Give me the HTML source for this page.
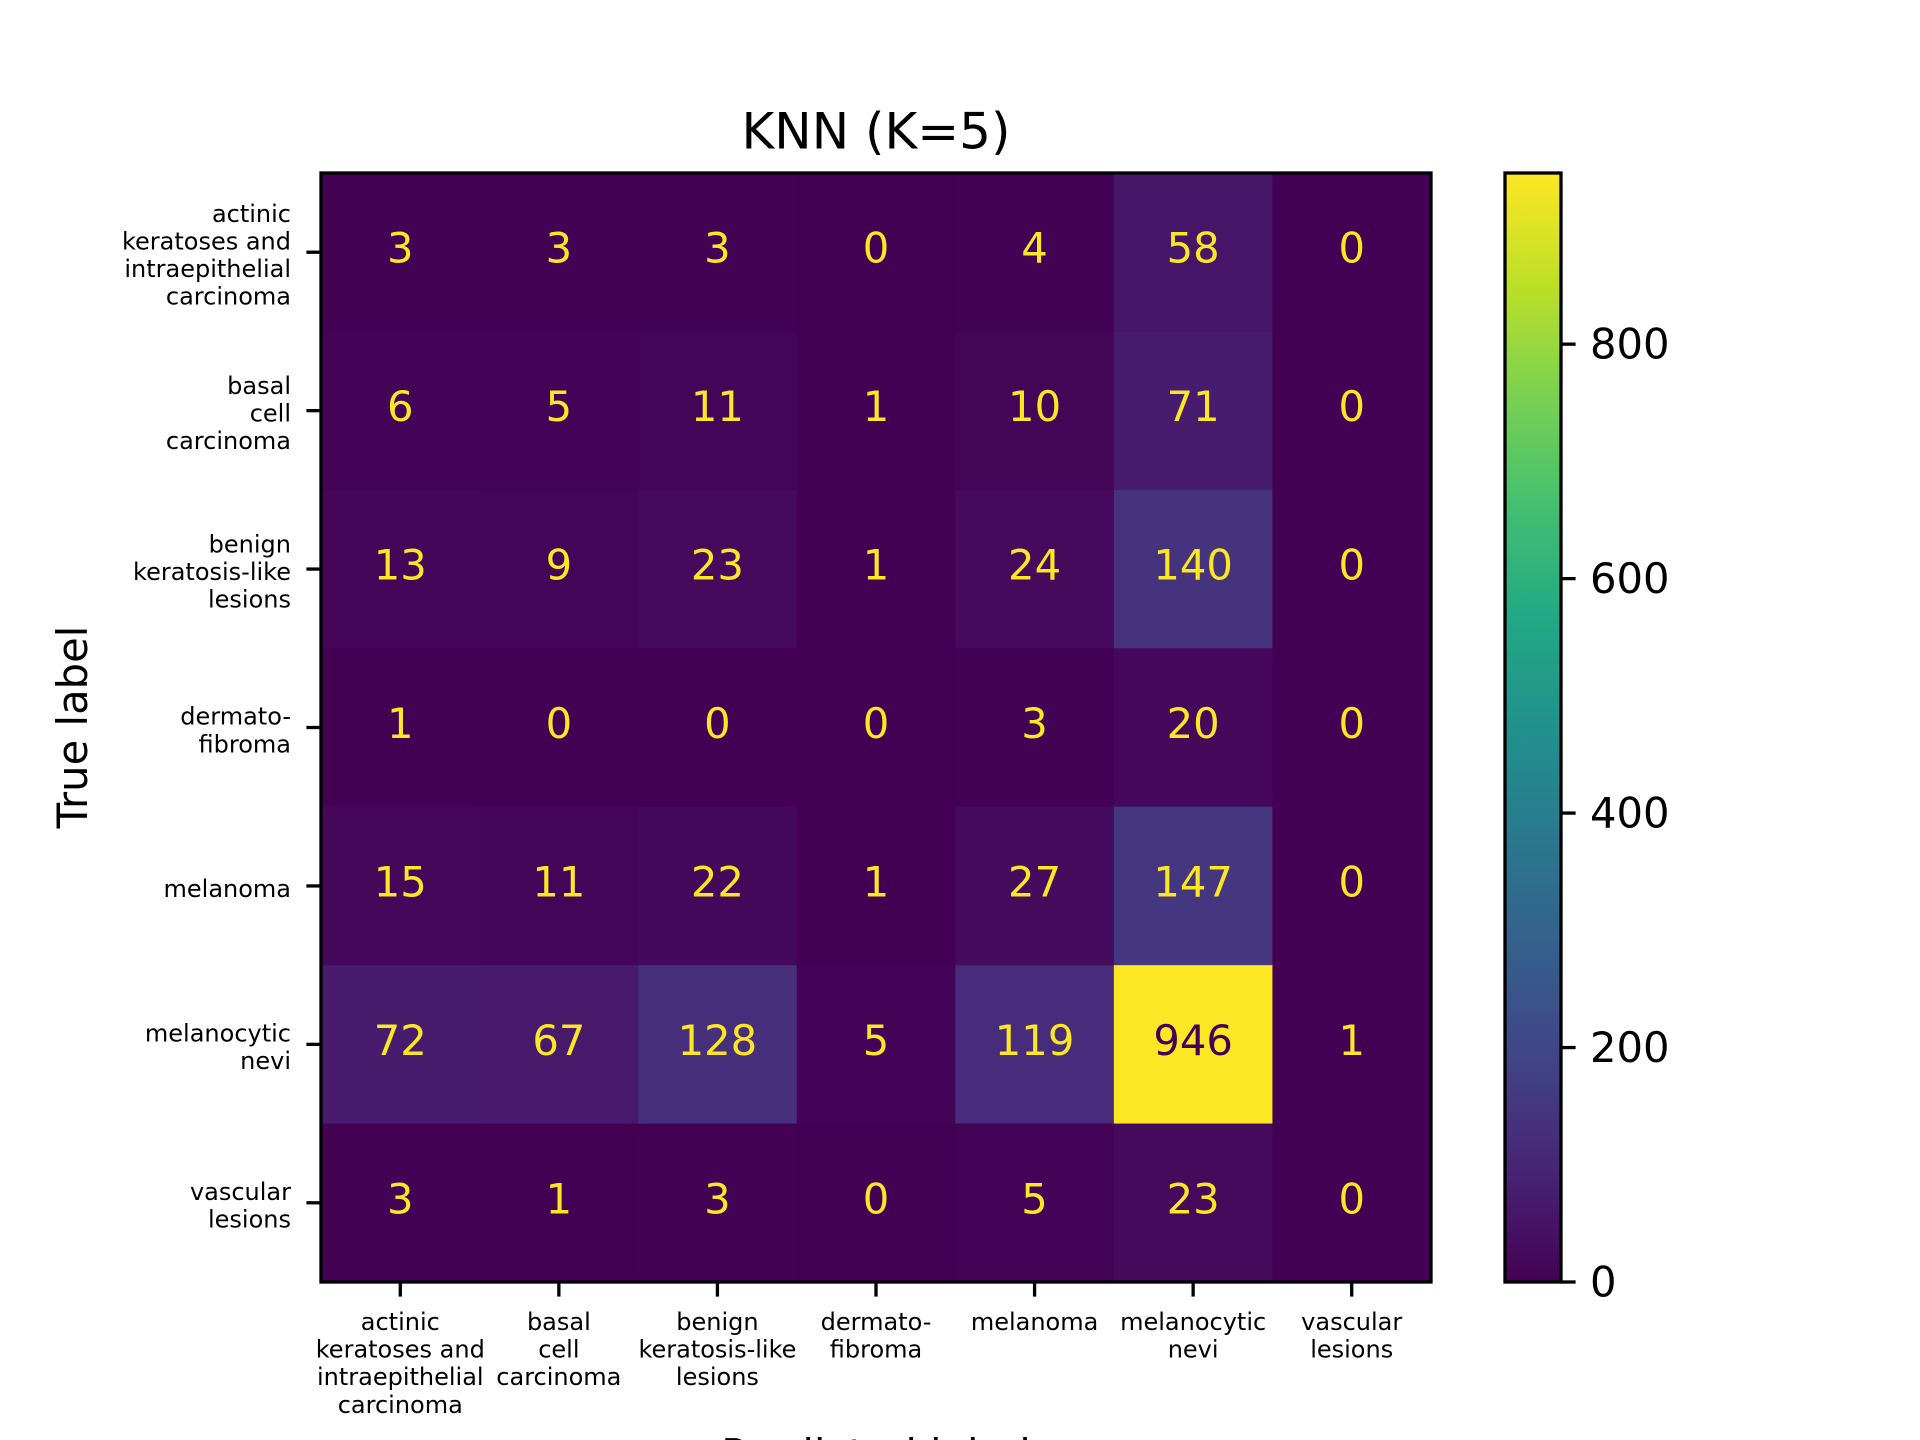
<!DOCTYPE html>
<html><head><meta charset="utf-8"><style>html,body{margin:0;padding:0;background:#fff}svg{display:block}text{font-family:"DejaVu Sans","Liberation Sans",sans-serif}</style></head>
<body>
<svg id="chart" width="1920" height="1440" viewBox="0 0 1920 1440" xmlns="http://www.w3.org/2000/svg">
<defs>
<linearGradient id="vir" x1="0" y1="1" x2="0" y2="0">
<stop offset="0" stop-color="#440154"/><stop offset="0.1" stop-color="#482475"/><stop offset="0.2" stop-color="#414487"/><stop offset="0.3" stop-color="#355f8d"/><stop offset="0.4" stop-color="#2a788e"/><stop offset="0.5" stop-color="#21918c"/><stop offset="0.6" stop-color="#22a884"/><stop offset="0.7" stop-color="#44bf70"/><stop offset="0.8" stop-color="#7ad151"/><stop offset="0.9" stop-color="#bddf26"/><stop offset="1" stop-color="#fde725"/>
</linearGradient>
</defs>
<text x="876" y="135" font-size="50" text-anchor="middle" dominant-baseline="middle">KNN (K=5)</text>
<g id="cells"></g>
<rect x="321" y="173" width="1110" height="1109" fill="none" stroke="#000" stroke-width="3.3"/>
<g id="ticks"></g>
<text transform="translate(76,727) rotate(-90)" font-size="41.7" text-anchor="middle" dominant-baseline="middle">True label</text>
<text x="876" y="1458" font-size="41.7" text-anchor="middle" dominant-baseline="middle">Predicted label</text>
<rect x="1505" y="173" width="56" height="1109" fill="url(#vir)" stroke="#000" stroke-width="3.3"/>
<g id="cbticks"></g>
</svg>
<script>
const labels = [["actinic","keratoses and","intraepithelial","carcinoma"],["basal","cell","carcinoma"],["benign","keratosis-like","lesions"],["dermato-","fibroma"],["melanoma"],["melanocytic","nevi"],["vascular","lesions"]];
const row0 = [3,3,3,0,4,58,0];
const row1 = [6,5,11,1,10,71,0];
const row2 = [13,9,23,1,24,140,0];
const row3 = [1,0,0,0,3,20,0];
const row4 = [15,11,22,1,27,147,0];
const row5 = [72,67,128,5,119,946,1];
const row6 = [3,1,3,0,5,23,0];
const matrix = [row0,row1,row2,row3,row4,row5,row6];
const cbTicks = [0,200,400,600,800];

const NS="http://www.w3.org/2000/svg";
const L=321,R=1431,T=173,B=1282;
const n=labels.length, cw=(R-L)/n, ch=(B-T)/n;
let vmax=0; matrix.forEach(r=>r.forEach(v=>{if(v>vmax)vmax=v;}));
const stops=[[68,1,84],[72,36,117],[65,68,135],[53,95,141],[42,120,142],[33,145,140],[34,168,132],[68,191,112],[122,209,81],[189,223,38],[253,231,37]];
function viridis(t){t=Math.max(0,Math.min(1,t));const p=t*10,i=Math.min(9,Math.floor(p)),f=p-i;const a=stops[i],b=stops[i+1];return 'rgb('+a.map((c,k)=>Math.round(c+(b[k]-c)*f)).join(',')+')';}
const xS=j=>L+cw*(j+0.5), yS=i=>T+ch*(i+0.5), cbY=v=>B-(v/vmax)*(B-T);
function mk(tag,attrs,parent){const e=document.createElementNS(NS,tag);for(const k in attrs)e.setAttribute(k,attrs[k]);parent.appendChild(e);return e;}
const cells=document.getElementById('cells');
matrix.forEach((row,i)=>row.forEach((v,j)=>{
  const r=mk('rect',{x:L+cw*j,y:T+ch*i,width:cw+0.5,height:ch+0.5,fill:viridis(v/vmax)},cells);
  
  
  const t=mk('text',{x:xS(j),y:yS(i)-4,'font-size':41.7,'text-anchor':'middle','dominant-baseline':'central',fill:v>vmax/2?'#440154':'#fde725'},cells);
  t.textContent=v;
  
  
}));
const tk=document.getElementById('ticks');
const LH=27.6;
labels.forEach((lab,k)=>{
  const lx=mk('line',{x1:xS(k),x2:xS(k),y1:B,y2:B+14.6,stroke:'#000','stroke-width':3.3},tk);
  
  
  const tx=mk('text',{x:xS(k),y:1321,'font-size':24,'text-anchor':'middle','dominant-baseline':'central'},tk);
  
  
  lab.forEach((s,q)=>{const sp=mk('tspan',{x:xS(k),y:1322+q*LH},tx);sp.textContent=s;});
  const ly=mk('line',{x1:L-14.6,x2:L,y1:yS(k),y2:yS(k),stroke:'#000','stroke-width':3.3},tk);
  
  
  const ty=mk('text',{x:291,y:0,'font-size':24,'text-anchor':'end','dominant-baseline':'central'},tk);
  
  
  const y0=yS(k)-(lab.length-1)*LH/2+3;
  lab.forEach((s,q)=>{const sp=mk('tspan',{x:291,y:y0+q*LH},ty);sp.textContent=s;});
});
const cb=document.getElementById('cbticks');
cbTicks.forEach(v=>{
  const l=mk('line',{x1:1561,x2:1575.6,y1:cbY(v),y2:cbY(v),stroke:'#000','stroke-width':3.3},cb);
  
  
  const t=mk('text',{x:1590,y:cbY(v),'font-size':41.7,'dominant-baseline':'central'},cb);
  t.textContent=v;
  
  
});
</script>
</body></html>
